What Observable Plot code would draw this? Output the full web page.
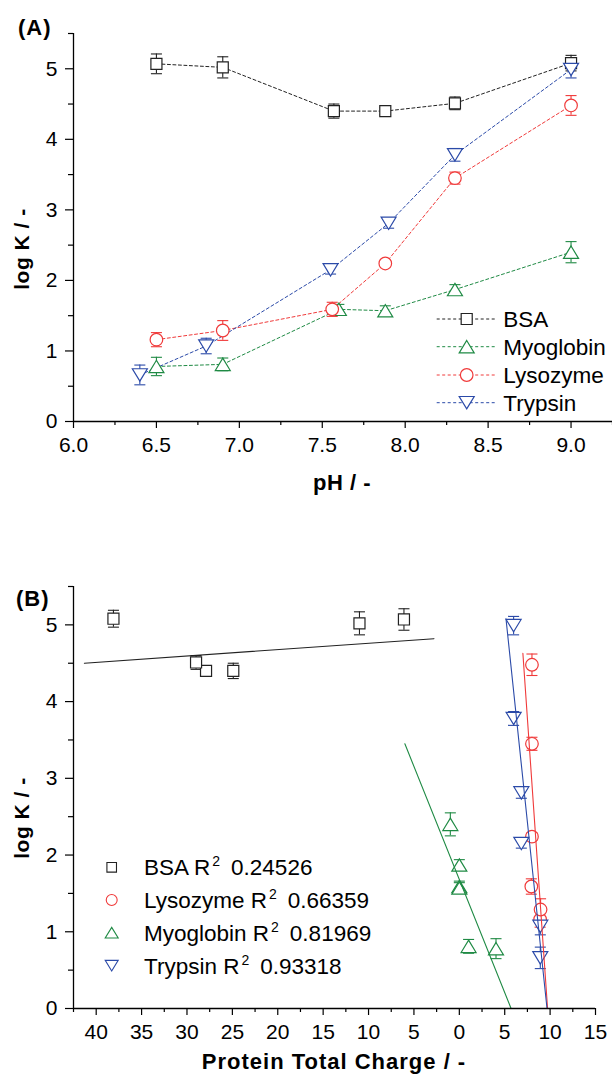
<!DOCTYPE html>
<html><head><meta charset="utf-8">
<script src="https://cdn.jsdelivr.net/npm/d3@7"></script>
<script src="https://cdn.jsdelivr.net/npm/@observablehq/plot@0.6"></script>
<style>
html,body{margin:0;padding:0;background:#fff;}
svg{display:block;}
#wrap{width:612px;height:1075px;overflow:hidden;background:#fff;}
</style></head><body><div id="wrap"></div>
<script>
// ---------- data ----------
const proteins = ["BSA", "Myoglobin", "Lysozyme", "Trypsin"];
const legendOrderB = ["BSA", "Lysozyme", "Myoglobin", "Trypsin"];
const r2Values = {BSA: "0.24526", Lysozyme: "0.66359", Myoglobin: "0.81969", Trypsin: "0.93318"};
const colors = {BSA: "#222222", Myoglobin: "#1f8a44", Lysozyme: "#f03a3a", Trypsin: "#2b4aa8"};

const pH_BSA = [6.5, 6.9, 7.57, 7.88, 8.3, 9.0];
const logK_BSA = [5.07, 5.02, 4.40, 4.40, 4.51, 5.08];
const err_BSA = [0.14, 0.15, 0.10, 0.05, 0.09, 0.11];
const charge_BSA = [-6.1, -11.0, -24.9, -27.9, -29.0, -38.1];

const pH_Myo = [6.5, 6.9, 7.6, 7.88, 8.3, 9.0];
const logK_Myo = [0.78, 0.81, 1.59, 1.57, 1.87, 2.40];
const err_Myo = [0.13, 0.09, 0.07, 0.07, 0.07, 0.15];
const charge_Myo = [4.04, 1.02, 0.0, 0.0, 0.0, -0.99];

const pH_Lys = [6.5, 6.9, 7.56, 7.88, 8.3, 9.0];
const logK_Lys = [1.16, 1.29, 1.59, 2.24, 3.45, 4.48];
const err_Lys = [0.10, 0.14, 0.10, 0.05, 0.085, 0.14];
const charge_Lys = [8.9, 8.95, 7.93, 8.0, 8.0, 8.0];

const pH_Try = [6.4, 6.8, 7.55, 7.9, 8.3, 9.0];
const logK_Try = [0.66, 1.07, 2.15, 2.81, 3.78, 4.99];
const err_Try = [0.14, 0.11, 0.06, 0.07, 0.09, 0.12];
const charge_Try = [8.92, 8.92, 6.83, 6.83, 5.98, 5.98];

// fitted lines in panel B (end points)
const fitX = {BSA: [-41.3, -2.8], Myoglobin: [-6.0, 5.7], Lysozyme: [7.0, 9.72], Trypsin: [5.14, 9.66]};
const fitY = {BSA: [4.50, 4.82], Myoglobin: [3.45, 0.0], Lysozyme: [4.63, 0.0], Trypsin: [5.08, 0.0]};

// ticks
const ticksA_x = [6.0, 6.5, 7.0, 7.5, 8.0, 8.5, 9.0];
const minorA_x = [6.25, 6.75, 7.25, 7.75, 8.25, 8.75, 9.25];
const ticksY = [0, 1, 2, 3, 4, 5];
const minorY = [0.5, 1.5, 2.5, 3.5, 4.5, 5.5];
const ticksB_x = [-40, -35, -30, -25, -20, -15, -10, -5, 0, 5, 10, 15];
const minorB_x = [-42.5, -37.5, -32.5, -27.5, -22.5, -17.5, -12.5, -7.5, -2.5, 2.5, 7.5, 12.5];

// ---------- build rows ----------
const src = {
  BSA: [pH_BSA, logK_BSA, err_BSA, charge_BSA],
  Myoglobin: [pH_Myo, logK_Myo, err_Myo, charge_Myo],
  Lysozyme: [pH_Lys, logK_Lys, err_Lys, charge_Lys],
  Trypsin: [pH_Try, logK_Try, err_Try, charge_Try]
};
const rows = {};
for (const p of proteins) {
  const [a, b, c, d] = src[p];
  rows[p] = a.map((v, i) => ({protein: p, pH: v, logK: b[i], err: c[i], charge: d[i]}));
}

// ---------- symbols ----------
function makeSym(kind) {
  return {draw(ctx, size) {
    const r = Math.sqrt(size / Math.PI);
    if (kind === "square") { const h = r * 0.92; ctx.moveTo(-h, -h); ctx.lineTo(h, -h); ctx.lineTo(h, h); ctx.lineTo(-h, h); ctx.closePath(); }
    else if (kind === "circle") { const R = r * 1.05; ctx.moveTo(R, 0); ctx.arc(0, 0, R, 0, 2 * Math.PI); ctx.closePath(); }
    else if (kind === "up") { const w = r * 1.25, hh = r * 1.03; ctx.moveTo(0, -hh); ctx.lineTo(w, hh); ctx.lineTo(-w, hh); ctx.closePath(); }
    else if (kind === "down") { const w = r * 1.25, hh = r * 1.03; ctx.moveTo(0, hh); ctx.lineTo(w, -hh); ctx.lineTo(-w, -hh); ctx.closePath(); }
    else if (kind === "cap") { const w = r * 0.92; ctx.moveTo(-w, 0); ctx.lineTo(w, 0); }
  }};
}
const symbols = {BSA: makeSym("square"), Myoglobin: makeSym("up"), Lysozyme: makeSym("circle"), Trypsin: makeSym("down")};
const capSym = makeSym("cap");
const R = 6;

const FONT = "'Liberation Sans', Arial, Helvetica, sans-serif";

function axes(xt, xm, fmt) {
  return [
    Plot.axisX({ticks: xt, tickFormat: fmt, tickSize: 7, tickPadding: 9, label: null, fontSize: 21, strokeWidth: 1.2}),
    Plot.axisX({ticks: xm, tickFormat: () => "", tickSize: 4, label: null, strokeWidth: 1.2}),
    Plot.axisY({ticks: ticksY, tickFormat: d3.format("d"), tickSize: 8, tickPadding: 8, label: null, fontSize: 21, strokeWidth: 1.2}),
    Plot.axisY({ticks: minorY, tickFormat: () => "", tickSize: 5, label: null, strokeWidth: 1.2})
  ];
}

function errMarks(xField) {
  const m = [];
  for (const p of proteins) {
    const d = rows[p];
    m.push(Plot.ruleX(d, {x: xField, y1: r => r.logK - r.err, y2: r => r.logK + r.err, stroke: colors[p], strokeWidth: 1.1}));
    m.push(Plot.dot(d, {x: xField, y: r => r.logK + r.err, symbol: capSym, r: R, stroke: colors[p], fill: "none", strokeWidth: 1.1}));
    m.push(Plot.dot(d, {x: xField, y: r => r.logK - r.err, symbol: capSym, r: R, stroke: colors[p], fill: "none", strokeWidth: 1.1}));
  }
  return m;
}
function dotMarks(xField) {
  return proteins.map(p => Plot.dot(rows[p], {x: xField, y: "logK", symbol: symbols[p], r: R, stroke: colors[p], fill: "white", strokeWidth: 1.2}));
}

// ---------- Panel A ----------
const plotA = Plot.plot({
  width: 612, height: 510,
  marginLeft: 73, marginRight: 0, marginTop: 33, marginBottom: 89,
  style: {fontFamily: FONT, fontSize: "21px", background: "white", color: "black", overflow: "visible"},
  x: {domain: [6, 9.25]},
  y: {domain: [0, 5.5]},
  marks: [
    ...proteins.map(p => Plot.line(rows[p], {x: "pH", y: "logK", stroke: colors[p], strokeWidth: 1, strokeDasharray: "3,2.5"})),
    ...errMarks("pH"),
    ...dotMarks("pH"),
    ...axes(ticksA_x, minorA_x, d3.format(".1f")),
    Plot.ruleY([0], {stroke: "black", strokeWidth: 1.3}),
    Plot.ruleX([6], {stroke: "black", strokeWidth: 1.3})
  ]
});

// ---------- Panel B ----------
const fitRows = [];
for (const p of proteins) fitX[p].forEach((x, i) => fitRows.push({protein: p, x, y: fitY[p][i]}));

const plotB = Plot.plot({
  width: 612, height: 565,
  marginLeft: 73, marginRight: 17, marginTop: 76, marginBottom: 67,
  style: {fontFamily: FONT, fontSize: "21px", background: "white", color: "black", overflow: "visible"},
  x: {domain: [-42.5, 15]},
  y: {domain: [0, 5.5]},
  marks: [
    ...errMarks("charge"),
    ...dotMarks("charge"),
    ...proteins.map(p => Plot.line(fitRows.filter(d => d.protein === p), {x: "x", y: "y", stroke: colors[p], strokeWidth: 1.1})),
    ...axes(ticksB_x, minorB_x, d => String(Math.abs(d))),
    Plot.ruleY([0], {stroke: "black", strokeWidth: 1.3}),
    Plot.ruleX([-42.5], {stroke: "black", strokeWidth: 1.3})
  ]
});

const wrap = document.getElementById("wrap");
wrap.appendChild(plotA);
wrap.appendChild(plotB);

// ---------- annotations ----------
function symPath(p, size) { const ctx = d3.path(); symbols[p].draw(ctx, size); return ctx.toString(); }

function addText(svg, x, y, txt, opts = {}) {
  return svg.append("text").attr("x", x).attr("y", y)
    .attr("font-family", FONT).attr("font-size", opts.size || 21)
    .attr("font-weight", opts.bold ? "bold" : "normal")
    .attr("text-anchor", opts.anchor || "start")
    .attr("letter-spacing", opts.ls || 0)
    .attr("fill", "black")
    .text(txt);
}

const sA = d3.select(plotA);
addText(sA, 18, 35, "(A)", {bold: true, size: 22, ls: 1});
addText(sA, 342, 490, "pH / -", {bold: true, size: 22, anchor: "middle", ls: 0.5});
addText(sA, 0, 0, "log K / -", {bold: true, size: 21, anchor: "middle", ls: 0.5}).attr("transform", "translate(29,249) rotate(-90)");
const legA = [["BSA", 319], ["Myoglobin", 346.7], ["Lysozyme", 375], ["Trypsin", 402.7]];
for (const [p, y] of legA) {
  sA.append("line").attr("x1", 436.7).attr("x2", 496.7).attr("y1", y).attr("y2", y)
    .attr("stroke", colors[p]).attr("stroke-width", 1).attr("stroke-dasharray", "3,2.5");
  sA.append("path").attr("d", symPath(p, Math.PI * R * R)).attr("transform", `translate(466.7,${y})`)
    .attr("fill", "white").attr("stroke", colors[p]).attr("stroke-width", 1.2);
  addText(sA, 503.3, y, p, {size: 22.5}).attr("dy", "0.35em");
}

const sB = d3.select(plotB);
const offB = 510;
addText(sB, 16, 606 - offB, "(B)", {bold: true, size: 22, ls: 1});
addText(sB, 334, 1069 - offB, "Protein Total Charge / -", {bold: true, size: 22, anchor: "middle", ls: 1});
addText(sB, 0, 0, "log K / -", {bold: true, size: 21, anchor: "middle", ls: 0.5}).attr("transform", `translate(29,${818 - offB}) rotate(-90)`);
const rowsLegB = [867.3, 900, 932.7, 965.7];
legendOrderB.forEach((p, i) => {
  const y = rowsLegB[i] - offB;
  sB.append("path").attr("d", symPath(p, Math.PI * 5.2 * 5.2)).attr("transform", `translate(111.7,${y})`)
    .attr("fill", "white").attr("stroke", colors[p]).attr("stroke-width", 1.1);
  const t = addText(sB, 144, y, "", {size: 22.5}).attr("dy", "0.35em");
  t.append("tspan").text(p + " R");
  t.append("tspan").attr("font-size", 14).attr("dx", 2).attr("dy", -9).text("2");
  t.append("tspan").attr("dx", 11).attr("dy", 9).text(r2Values[p]);
});
</script></body></html>
